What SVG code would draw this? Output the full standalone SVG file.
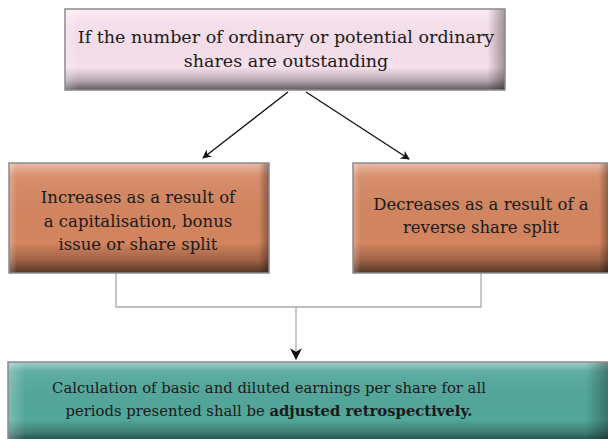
<svg xmlns="http://www.w3.org/2000/svg" width="608" height="439" viewBox="0 0 608 439">
<defs>
<style>
text{font-family:'DejaVu Serif','Liberation Serif',serif;font-size:16.5px;fill:#1a1a1a;text-anchor:middle}
.t1{font-size:17.5px}
.t3{font-size:14.8px}
.b{font-weight:bold}
.edge{fill:none;stroke:#8a8a8a;stroke-width:1.5}
.conn{fill:none;stroke:#111;stroke-width:1.3}
.grey{fill:none;stroke:#aaa;stroke-width:1.3}
</style>
<linearGradient id="vshade" x1="0" y1="0" x2="0" y2="1">
<stop offset="0" stop-color="#fff" stop-opacity="0.45"/>
<stop offset="0.12" stop-color="#fff" stop-opacity="0.08"/>
<stop offset="0.72" stop-color="#000" stop-opacity="0"/>
<stop offset="0.88" stop-color="#000" stop-opacity="0.25"/>
<stop offset="1" stop-color="#000" stop-opacity="0.6"/>
</linearGradient>
<linearGradient id="hshade" x1="0" y1="0" x2="1" y2="0">
<stop offset="0" stop-color="#fff" stop-opacity="0.25"/>
<stop offset="0.03" stop-color="#fff" stop-opacity="0"/>
<stop offset="0.96" stop-color="#000" stop-opacity="0"/>
<stop offset="1" stop-color="#000" stop-opacity="0.35"/>
</linearGradient>
<marker id="ah" viewBox="0 0 10 10" refX="9" refY="5" markerWidth="9" markerHeight="9" markerUnits="userSpaceOnUse" orient="auto">
<path d="M0,0 L10,5 L0,10 L3,5 Z" fill="#111"/>
</marker>
<marker id="ah2" viewBox="0 0 10 10" refX="9" refY="5" markerWidth="12" markerHeight="12" markerUnits="userSpaceOnUse" orient="auto">
<path d="M0,0 L10,5 L0,10 L3,5 Z" fill="#111"/>
</marker>
</defs>

<g id="connectors">
<line class="conn" x1="288" y1="92" x2="203" y2="158" marker-end="url(#ah)"/>
<line class="conn" x1="306" y1="92" x2="409" y2="159" marker-end="url(#ah)"/>
<polyline class="grey" points="116,273 116,307 481,307 481,273"/>
<line class="grey" x1="296" y1="307" x2="296" y2="359" marker-end="url(#ah2)"/>
</g>

<g id="top">
<rect x="65" y="9" width="440" height="81" fill="#f6e0ec"/>
<rect x="65" y="9" width="440" height="81" fill="url(#vshade)"/>
<rect x="65" y="9" width="440" height="81" fill="url(#hshade)"/>
<rect x="65" y="9" width="440" height="81" class="edge"/>
<text class="t1" x="286" y="43">If the number of ordinary or potential ordinary</text>
<text class="t1" x="286" y="67">shares are outstanding</text>
</g>

<g id="increase">
<rect x="9" y="163" width="260" height="110" fill="#d4855f"/>
<rect x="9" y="163" width="260" height="110" fill="url(#vshade)"/>
<rect x="9" y="163" width="260" height="110" fill="url(#hshade)"/>
<rect x="9" y="163" width="260" height="110" class="edge"/>
<text x="138" y="203">Increases as a result of</text>
<text x="138" y="227">a capitalisation, bonus</text>
<text x="138" y="250">issue or share split</text>
</g>

<g id="decrease">
<rect x="353" y="163" width="256" height="110" fill="#d4855f"/>
<rect x="353" y="163" width="256" height="110" fill="url(#vshade)"/>
<rect x="353" y="163" width="256" height="110" fill="url(#hshade)"/>
<rect x="353" y="163" width="256" height="110" class="edge"/>
<text x="481" y="210">Decreases as a result of a</text>
<text x="481" y="233">reverse share split</text>
</g>

<g id="result">
<rect x="8" y="362" width="602" height="80" fill="#52a79b"/>
<rect x="8" y="362" width="602" height="80" fill="url(#vshade)"/>
<rect x="8" y="362" width="602" height="80" fill="url(#hshade)"/>
<rect x="8" y="362" width="602" height="80" class="edge"/>
<text class="t3" x="269" y="393">Calculation of basic and diluted earnings per share for all</text>
<text class="t3" x="269" y="416">periods presented shall be <tspan class="b">adjusted retrospectively.</tspan></text>
</g>
</svg>
